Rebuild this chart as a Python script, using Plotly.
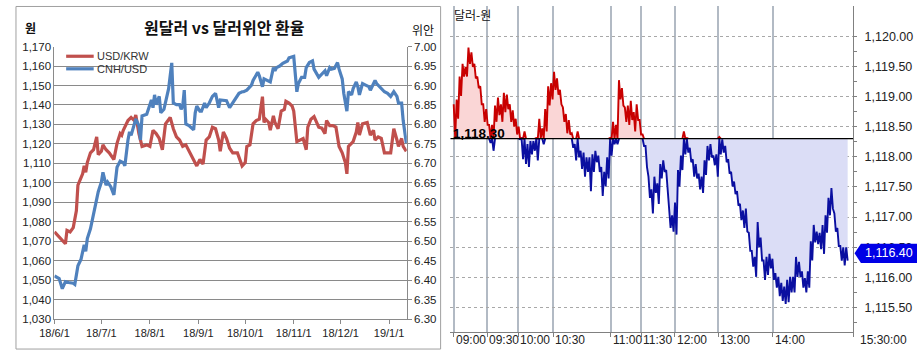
import plotly.graph_objects as go
import pandas as pd

W, H = 917, 356

# ---------------- Left chart data (daily) ----------------
start_date = "2018-06-01"
krw_days = [0, 7, 8, 10, 12, 14, 15, 18, 19, 20, 21, 23, 25, 27, 28, 30, 31, 33, 35, 38,
            40, 42, 43, 44, 47, 49, 51, 52, 54, 56, 59, 61, 63, 65, 67, 69, 71, 73, 74, 76,
            78, 80, 82, 84, 86, 88, 91, 93, 95, 97, 99, 101, 103, 105, 106, 108, 110, 112, 114, 117,
            120, 122, 123, 125, 127, 129, 131, 133, 134, 135, 137, 138, 140, 141, 143, 145, 147, 148, 150, 152,
            153, 155, 157, 159, 161, 162, 164, 166, 169, 171, 173, 174, 176, 178, 180, 182, 184, 186, 187, 188,
            191, 193, 194, 195, 197, 199, 200, 202, 204, 205, 207, 209, 211, 215, 217, 219, 220, 222, 223, 225]
krw_vals = [1074.8, 1068.7, 1075.6, 1074.8, 1077.0, 1085.6, 1098.8, 1104.6, 1108.7, 1105.4, 1110.4, 1115.4, 1117.0, 1123.6, 1114.5, 1116.2, 1119.5, 1117.0, 1115.4, 1112.0,
            1120.3, 1125.3, 1124.5, 1127.0, 1132.0, 1133.6, 1132.0, 1134.9, 1125.3, 1118.7, 1119.5, 1118.7, 1127.0, 1125.3, 1122.8, 1117.0, 1130.3, 1132.7, 1133.6, 1127.8,
            1123.6, 1122.0, 1118.7, 1119.5, 1116.2, 1112.9, 1108.7, 1112.0, 1109.6, 1122.0, 1123.6, 1128.6, 1127.8, 1122.0, 1116.2, 1126.1, 1122.8, 1117.8, 1115.4, 1115.4,
            1108.7, 1110.4, 1118.7, 1119.5, 1130.3, 1132.0, 1132.7, 1144.3, 1131.0, 1132.7, 1131.0, 1127.0, 1134.4, 1131.0, 1127.8, 1136.9, 1137.7, 1141.9, 1141.0, 1139.4,
            1136.9, 1121.2, 1122.0, 1122.8, 1117.0, 1128.6, 1132.7, 1134.0, 1128.6, 1128.1, 1125.3, 1132.0, 1129.4, 1129.4, 1128.6, 1118.7, 1115.4, 1110.4, 1104.6, 1118.7,
            1121.2, 1126.1, 1131.0, 1124.5, 1130.3, 1131.0, 1131.0, 1124.5, 1127.0, 1122.0, 1123.6, 1122.8, 1115.4, 1115.4, 1127.8, 1122.0, 1118.7, 1122.8, 1118.7, 1116.2]

cnh_days = [0, 3, 5, 7, 9, 12, 13, 15, 17, 19, 20, 21, 23, 25, 27, 28, 30, 31, 33, 34,
            36, 38, 40, 42, 44, 45, 47, 48, 49, 51, 52, 54, 55, 56, 59, 62, 63, 64, 65, 67,
            68, 70, 72, 73, 75, 76, 78, 80, 81, 82, 83, 84, 86, 88, 89, 90, 91, 93, 94, 96,
            97, 99, 100, 101, 103, 105, 106, 107, 110, 112, 114, 116, 118, 120, 121, 123, 126, 127, 128, 130,
            131, 133, 134, 136, 138, 140, 141, 142, 144, 146, 149, 150, 152, 153, 155, 156, 158, 160, 161, 163,
            165, 166, 169, 171, 173, 174, 176, 177, 179, 181, 182, 184, 185, 187, 188, 190, 191, 193, 194, 195,
            197, 199, 201, 202, 205, 206, 209, 211, 213, 215, 217, 219, 220, 222, 223, 225]
cnh_vals = [6.411, 6.404, 6.378, 6.396, 6.394, 6.392, 6.389, 6.437, 6.454, 6.491, 6.474, 6.507, 6.532, 6.570, 6.603, 6.627, 6.652, 6.677, 6.644, 6.652,
            6.640, 6.619, 6.690, 6.706, 6.702, 6.694, 6.760, 6.781, 6.772, 6.801, 6.814, 6.797, 6.760, 6.822, 6.826, 6.863, 6.843, 6.876, 6.851, 6.872,
            6.830, 6.839, 6.872, 6.892, 6.958, 6.855, 6.851, 6.851, 6.839, 6.847, 6.888, 6.801, 6.797, 6.789, 6.786, 6.830, 6.847, 6.834, 6.834, 6.855,
            6.843, 6.855, 6.863, 6.872, 6.880, 6.843, 6.863, 6.863, 6.861, 6.843, 6.855, 6.868, 6.880, 6.884, 6.884, 6.888, 6.901, 6.913, 6.921, 6.934,
            6.925, 6.897, 6.917, 6.913, 6.909, 6.946, 6.938, 6.946, 6.950, 6.957, 6.963, 6.971, 6.975, 6.975, 6.884, 6.905, 6.921, 6.921, 6.946, 6.959,
            6.963, 6.942, 6.921, 6.930, 6.938, 6.925, 6.946, 6.942, 6.944, 6.959, 6.942, 6.917, 6.880, 6.834, 6.884, 6.876, 6.892, 6.909, 6.897, 6.876,
            6.905, 6.901, 6.897, 6.888, 6.913, 6.905, 6.892, 6.884, 6.880, 6.872, 6.884, 6.872, 6.855, 6.855, 6.810, 6.752]

month_ticks = ["2018-06-01", "2018-07-01", "2018-08-01", "2018-09-01", "2018-10-01",
               "2018-11-01", "2018-12-01", "2019-01-01"]
month_labels = ["18/6/1", "18/7/1", "18/8/1", "18/9/1", "18/10/1", "18/11/1", "18/12/1", "19/1/1"]

# ---------------- Right chart data (intraday, per sample: high / low) ----------------
base_price = 1118.30
last_price = 1116.40
tick_hi = [1118.87, 1118.95, 1119.33, 1119.54, 1119.49, 1119.81, 1119.73, 1119.54, 1119.33, 1119.17,
           1118.87, 1118.79, 1118.53, 1118.53, 1118.85, 1118.98, 1118.87, 1119.06, 1119.03, 1118.87,
           1118.77, 1118.63, 1118.50, 1118.31, 1118.42, 1118.21, 1118.26, 1118.26, 1118.31, 1118.63,
           1118.47, 1118.79, 1119.17, 1119.22, 1119.41, 1119.30, 1119.11, 1118.82, 1118.71, 1118.61,
           1118.39, 1118.21, 1118.42, 1118.10, 1118.07, 1117.99, 1117.99, 1118.04, 1118.10, 1118.02,
           1117.83, 1117.75, 1117.99, 1118.31, 1118.58, 1118.53, 1119.27, 1119.14, 1118.82, 1118.85,
           1118.93, 1118.74, 1118.87, 1118.61, 1118.37, 1118.18, 1117.67, 1117.46, 1117.67, 1117.56,
           1117.88, 1117.94, 1117.78, 1117.14, 1117.03, 1117.24, 1117.78, 1118.02, 1118.42, 1118.31,
           1118.15, 1117.96, 1117.88, 1117.72, 1117.67, 1117.94, 1118.18, 1118.21, 1118.02, 1118.04,
           1118.33, 1118.29, 1118.18, 1117.96, 1117.75, 1117.59, 1117.43, 1117.22, 1117.11, 1117.14,
           1116.74, 1116.44, 1116.34, 1116.92, 1116.66, 1116.28, 1116.34, 1116.39, 1116.31, 1116.07,
           1116.01, 1115.91, 1115.85, 1115.96, 1116.01, 1116.01, 1116.34, 1116.26, 1116.10, 1115.99,
           1116.10, 1116.60, 1116.87, 1116.76, 1116.74, 1116.87, 1117.03, 1117.32, 1117.48, 1117.06,
           1116.82, 1116.52, 1116.50, 1116.50]
tick_lo = [1118.31, 1118.63, 1119.01, 1119.33, 1119.33, 1119.54, 1119.49, 1119.30, 1119.14, 1118.87,
           1118.58, 1118.53, 1118.23, 1118.10, 1118.58, 1118.69, 1118.58, 1118.74, 1118.79, 1118.58,
           1118.50, 1118.37, 1118.29, 1117.96, 1117.88, 1117.83, 1118.04, 1118.10, 1117.94, 1118.31,
           1118.21, 1118.42, 1118.85, 1118.95, 1119.11, 1119.03, 1118.87, 1118.58, 1118.39, 1118.37,
           1118.15, 1117.94, 1117.99, 1117.80, 1117.67, 1117.75, 1117.43, 1117.75, 1117.91, 1117.75,
           1117.35, 1117.51, 1117.64, 1118.02, 1118.21, 1118.21, 1118.95, 1118.85, 1118.58, 1118.53,
           1118.61, 1118.42, 1118.61, 1118.37, 1118.18, 1117.83, 1117.32, 1117.06, 1117.40, 1117.22,
           1117.64, 1117.75, 1117.46, 1116.82, 1116.76, 1116.71, 1117.51, 1117.78, 1118.04, 1118.07,
           1117.91, 1117.67, 1117.64, 1117.46, 1117.40, 1117.70, 1117.94, 1117.99, 1117.86, 1117.67,
           1118.04, 1118.07, 1117.91, 1117.72, 1117.51, 1117.38, 1117.19, 1116.95, 1116.82, 1116.76,
           1116.44, 1116.18, 1116.01, 1116.50, 1116.28, 1115.96, 1116.04, 1116.15, 1115.96, 1115.83,
           1115.69, 1115.61, 1115.56, 1115.59, 1115.75, 1115.75, 1116.01, 1116.01, 1115.83, 1115.75,
           1115.83, 1116.28, 1116.58, 1116.55, 1116.47, 1116.39, 1116.74, 1117.03, 1117.14, 1116.76,
           1116.52, 1116.28, 1116.20, 1116.28]
time_ticks = [0, 11.43, 21.9, 33.77, 53.23, 63.5, 74.9, 89.73, 108.07, 135.33]
time_labels = ["09:00", "09:30", "10:00", "10:30", "11:00", "11:30", "12:00", "13:00", "14:00", "15:30:00"]
price_ticks = [1115.5, 1116.0, 1116.5, 1117.0, 1117.5, 1118.0, 1118.5, 1119.0, 1119.5, 1120.0]

# ---------------- helpers ----------------
def px(x):
    return x / W

def py(y):
    return 1 - y / H

NUM_FONT = "Liberation Sans, Arial, sans-serif"
KR_FONT = "Noto Sans CJK KR, sans-serif"

fig = go.Figure()

# ---------------- Left chart ----------------
t0 = pd.Timestamp(start_date)
krw_dates = [t0 + pd.Timedelta(days=d) for d in krw_days]
cnh_dates = [t0 + pd.Timedelta(days=d) for d in cnh_days]

fig.add_trace(go.Scatter(x=krw_dates, y=krw_vals, mode="lines", name="USD/KRW",
                         line=dict(color="#C0504D", width=3.2), xaxis="x", yaxis="y",
                         showlegend=False))
fig.add_trace(go.Scatter(x=cnh_dates, y=cnh_vals, mode="lines", name="CNH/USD",
                         line=dict(color="#4F81BD", width=3.2), xaxis="x", yaxis="y2",
                         showlegend=False))

# ---------------- Right chart ----------------
# each sample drawn as a stroke from its high (at i) to its low (at i + 0.5)
xs, ys = [], []
for i, (h, l) in enumerate(zip(tick_hi, tick_lo)):
    xs.extend([i, i + 0.5])
    ys.extend([h, l])

n = len(ys)
red_fill = [max(v, base_price) for v in ys]
blue_fill = [min(v, base_price) for v in ys]

def seg(vals, above):
    out = []
    for k, v in enumerate(vals):
        nb = [vals[j] for j in (k - 1, k, k + 1) if 0 <= j < n]
        if above:
            ok = any(u > base_price for u in nb)
            out.append(max(v, base_price) if ok else None)
        else:
            ok = any(u < base_price for u in nb)
            out.append(min(v, base_price) if ok else None)
    return out

base_arr = [base_price] * n
fig.add_trace(go.Scatter(x=xs, y=base_arr, mode="lines", line=dict(width=0),
                         xaxis="x3", yaxis="y3", showlegend=False, hoverinfo="skip"))
fig.add_trace(go.Scatter(x=xs, y=red_fill, mode="lines", line=dict(width=0),
                         fill="tonexty", fillcolor="rgb(250,214,214)",
                         xaxis="x3", yaxis="y3", showlegend=False, hoverinfo="skip"))
fig.add_trace(go.Scatter(x=xs, y=base_arr, mode="lines", line=dict(width=0),
                         xaxis="x3", yaxis="y3", showlegend=False, hoverinfo="skip"))
fig.add_trace(go.Scatter(x=xs, y=blue_fill, mode="lines", line=dict(width=0),
                         fill="tonexty", fillcolor="rgb(219,221,246)",
                         xaxis="x3", yaxis="y3", showlegend=False, hoverinfo="skip"))
fig.add_trace(go.Scatter(x=xs, y=seg(ys, True), mode="lines", connectgaps=False,
                         line=dict(color="#c80000", width=1.9),
                         xaxis="x3", yaxis="y3", showlegend=False))
fig.add_trace(go.Scatter(x=xs, y=seg(ys, False), mode="lines", connectgaps=False,
                         line=dict(color="#0a0fa0", width=1.9),
                         xaxis="x3", yaxis="y3", showlegend=False))

# ---------------- Layout ----------------
grid_gray = "#8a8a8a"
y3_range = [1115.09, 1120.50]
y3_dom = [1 - 337.7 / H, 1.0]

fig.update_layout(
    width=W, height=H, margin=dict(l=0, r=0, t=0, b=0),
    paper_bgcolor="white", plot_bgcolor="rgba(0,0,0,0)",
    xaxis=dict(domain=[px(40), px(398.3)], anchor="y", type="date",
               range=[t0 - pd.Timedelta(hours=2), t0 + pd.Timedelta(days=225.3)],
               tickmode="array", tickvals=month_ticks, ticktext=month_labels,
               ticks="outside", ticklen=4, tickcolor=grid_gray,
               showline=True, linecolor=grid_gray, showgrid=False, zeroline=False,
               tickfont=dict(family=NUM_FONT, size=11, color="#222")),
    yaxis=dict(domain=[py(324), py(42)], anchor="x", range=[1030, 1170], dtick=10,
               tickformat=",d", showgrid=True, gridcolor=grid_gray, gridwidth=1,
               showline=True, linecolor=grid_gray, zeroline=False, ticks="",
               tickfont=dict(family=NUM_FONT, size=11.5, color="#222")),
    yaxis2=dict(overlaying="y", side="right", anchor="x", range=[6.30, 7.00], dtick=0.05,
                tickformat=".2f", showgrid=False, showline=True, linecolor=grid_gray,
                ticks="outside", ticklen=4, tickcolor=grid_gray, zeroline=False,
                tickfont=dict(family=NUM_FONT, size=11.5, color="#222")),
    xaxis3=dict(domain=[px(442.7), px(852)], anchor="y3", range=[-1.1, 135.33],
                tickmode="array", tickvals=time_ticks, showticklabels=False,
                showgrid=True, gridcolor="#b2bac4", gridwidth=1.5,
                showline=True, linecolor="#808080", ticks="outside", ticklen=4,
                tickcolor="#808080", zeroline=False),
    yaxis3=dict(domain=y3_dom, anchor="x3", side="right", range=y3_range,
                tickmode="array", tickvals=price_ticks,
                ticktext=[f"{v:,.2f}" for v in price_ticks],
                showgrid=True, griddash="dot", gridcolor="#a8a8a8", gridwidth=1,
                showline=True, linecolor="#808080", zeroline=False,
                ticks="outside", ticklen=3, tickcolor="#808080", ticklabelstandoff=5,
                minor=dict(tickmode="array", tickvals=[v + 0.25 for v in price_ticks[:-1]] + [1115.25],
                           ticks="outside", ticklen=3, tickcolor="#808080", showgrid=False),
                tickfont=dict(family=NUM_FONT, size=12.5, color="#222")),
)

annotations = []
shapes = []

def note(x, y, text, xref="paper", yref="paper", xanchor="center", yanchor="middle", **kw):
    d = dict(x=x, y=y, xref=xref, yref=yref, text=text, showarrow=False,
             xanchor=xanchor, yanchor=yanchor)
    d.update(kw)
    annotations.append(d)

# Left panel border
shapes.append(dict(type="rect", xref="paper", yref="paper", x0=px(1), x1=px(432.7),
                   y0=py(355), y1=py(0.5), line=dict(color="#a0a0a0", width=1)))

# Left chart texts
note(px(213), py(22), "<b>원달러 vs 달러위안 환율</b>",
     font=dict(family=KR_FONT, size=16, color="#111"))
note(px(16), py(22), "<b>원</b>", font=dict(family=KR_FONT, size=12, color="#111"))
note(px(415), py(24), "위안", font=dict(family=KR_FONT, size=12, color="#111"))

# Legend (manual)
for name, color, yy in [("USD/KRW", "#C0504D", 52), ("CNH/USD", "#4F81BD", 65)]:
    shapes.append(dict(type="line", xref="paper", yref="paper", x0=px(52), x1=px(80),
                       y0=py(yy), y1=py(yy), line=dict(color=color, width=3.2)))
    note(px(81), py(yy), name, xanchor="left",
         font=dict(family=NUM_FONT, size=11, color="#333"))

# Right chart texts
note(px(444), py(9), "달러-원", xanchor="left",
     font=dict(family=KR_FONT, size=12, color="#111"))

shapes.append(dict(type="line", xref="x3 domain", yref="y3", x0=0, x1=1,
                   y0=base_price, y1=base_price, line=dict(color="black", width=1.3)))
note(px(443), base_price, f"<b>{base_price:,.2f}</b>", yref="y3", xanchor="left",
     yanchor="bottom", yshift=-4, font=dict(family=NUM_FONT, size=13.5, color="black"))

for tv, tl in zip(time_ticks, time_labels):
    note(tv, py(346), tl, xref="x3", xanchor="left",
         xshift=(5 if tl == "15:30:00" else 0),
         font=dict(family=NUM_FONT, size=12, color="#222"))

# Last price pointer
units_per_px = (y3_range[1] - y3_range[0]) / ((y3_dom[1] - y3_dom[0]) * H)
hh = 10 * units_per_px
xt, xb0, xb1 = px(853.5), px(860), px(917)
path = (f"M {xt},{last_price} L {xb0},{last_price + hh} L {xb1},{last_price + hh} "
        f"L {xb1},{last_price - hh} L {xb0},{last_price - hh} Z")
shapes.append(dict(type="path", xref="paper", yref="y3", path=path,
                   fillcolor="#0000e6", line=dict(color="#0000e6", width=0)))
note(px(862), last_price, f"{last_price:,.2f}", yref="y3", xanchor="left",
     font=dict(family=NUM_FONT, size=12.5, color="white"))

fig.update_layout(annotations=annotations, shapes=shapes)

fig.write_html("out.html")
